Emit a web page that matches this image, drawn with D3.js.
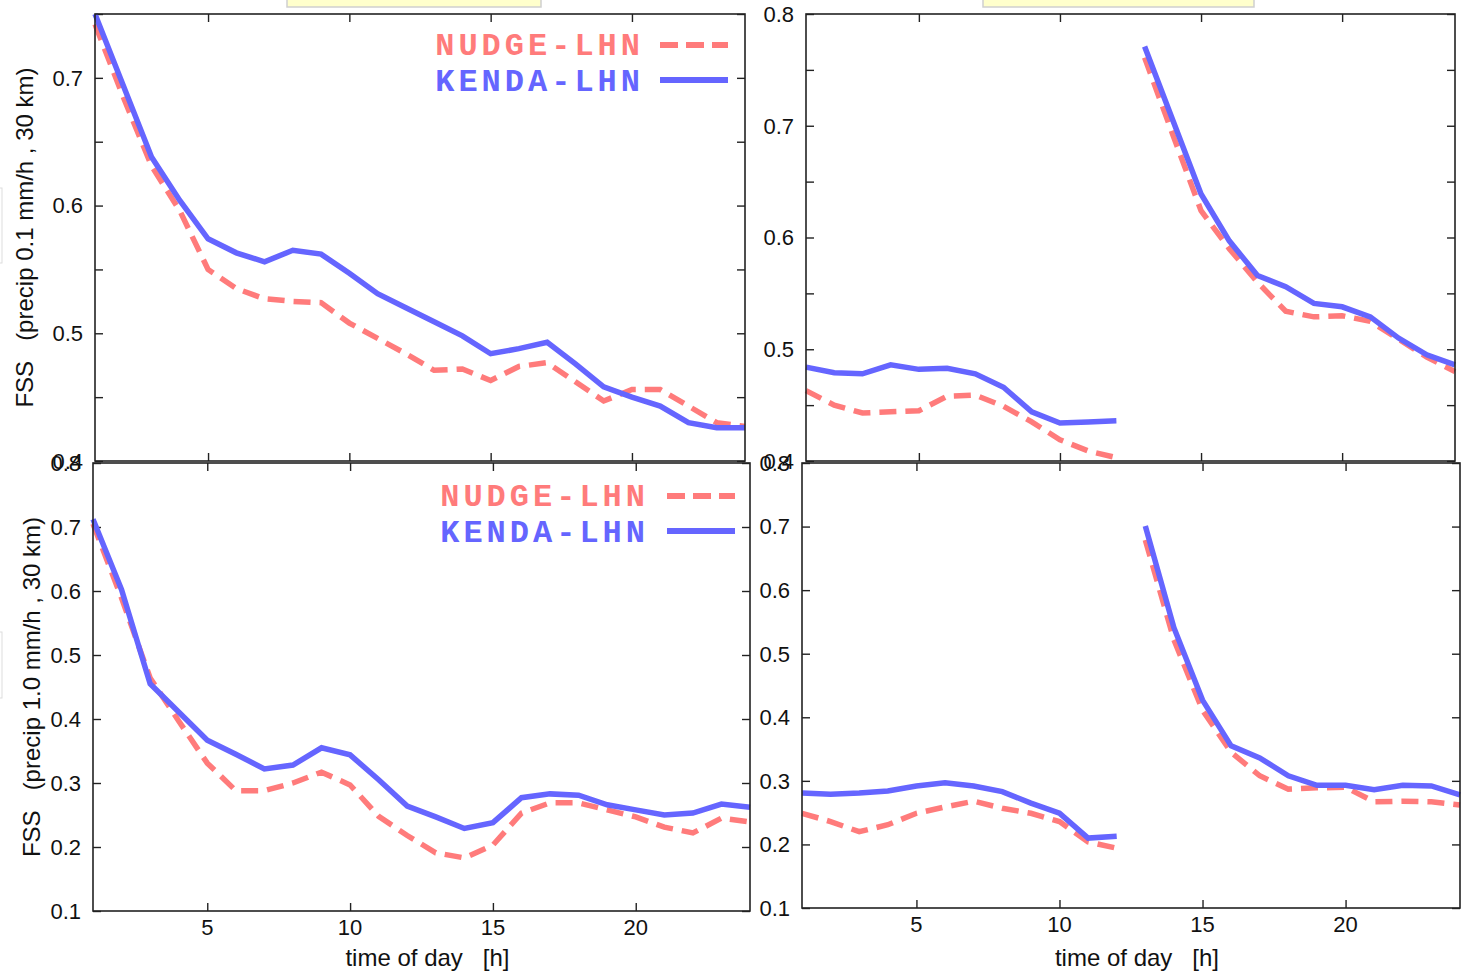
<!DOCTYPE html>
<html>
<head>
<meta charset="utf-8">
<script src="https://cdn.jsdelivr.net/npm/d3@7"></script>
<style>
  body { margin: 0; background: #fff; }
  svg { display: block; }
  text { font-family: "Liberation Sans", Arial, sans-serif; fill: #111; }
  .legend text { font-family: "Liberation Mono", "Courier New", monospace; font-weight: bold; }
</style>
</head>
<body>
<div id="chart"></div>
<script>
// hours of the day (x values)
var hours = [1, 2, 3, 4, 5, 6, 7, 8, 9, 10, 11, 12, 13, 14, 15, 16, 17, 18, 19, 20, 21, 22, 23, 24];
var xTicks = [5, 10, 15, 20];
var seriesNames = ["NUDGE-LHN", "KENDA-LHN"];

// FSS precip 0.1 mm/h, 30 km  (left: continuous run)
var nudge01Left = [0.742, 0.685, 0.631, 0.596, 0.550, 0.535, 0.527, 0.525, 0.524, 0.508, 0.496, 0.484,
                   0.471, 0.472, 0.463, 0.474, 0.477, 0.462, 0.447, 0.456, 0.456, 0.443, 0.430, 0.427];
var kenda01Left = [0.750, 0.694, 0.638, 0.604, 0.574, 0.563, 0.556, 0.565, 0.562, 0.547, 0.531, 0.520,
                   0.509, 0.498, 0.484, 0.488, 0.493, 0.476, 0.458, 0.450, 0.443, 0.430, 0.426, 0.426];
// FSS precip 0.1 mm/h (right: two runs, 1-12 and 13-24)
var nudge01Right = [0.463, 0.450, 0.443, 0.444, 0.445, 0.458, 0.459, 0.449, 0.435, 0.419, 0.409, 0.403,
                    0.761, 0.692, 0.624, 0.590, 0.560, 0.534, 0.529, 0.530, 0.525, 0.509, 0.493, 0.480];
var kenda01Right = [0.484, 0.479, 0.478, 0.486, 0.482, 0.483, 0.478, 0.466, 0.444, 0.434, 0.435, 0.436,
                    0.771, 0.705, 0.639, 0.597, 0.566, 0.556, 0.541, 0.538, 0.529, 0.510, 0.495, 0.486];
// FSS precip 1.0 mm/h, 30 km
var nudge10Left = [0.705, 0.589, 0.464, 0.397, 0.331, 0.288, 0.288, 0.300, 0.317, 0.297, 0.248, 0.218,
                   0.191, 0.183, 0.203, 0.253, 0.269, 0.269, 0.258, 0.247, 0.231, 0.222, 0.245, 0.239];
var kenda10Left = [0.712, 0.602, 0.455, 0.411, 0.367, 0.345, 0.322, 0.328, 0.355, 0.344, 0.305, 0.264,
                   0.247, 0.229, 0.238, 0.277, 0.283, 0.281, 0.266, 0.258, 0.250, 0.253, 0.267, 0.262];
var nudge10Right = [0.249, 0.236, 0.220, 0.231, 0.249, 0.259, 0.268, 0.257, 0.249, 0.236, 0.204, 0.194,
                    0.679, 0.522, 0.411, 0.345, 0.308, 0.287, 0.289, 0.290, 0.267, 0.268, 0.267, 0.262];
var kenda10Right = [0.281, 0.279, 0.281, 0.284, 0.292, 0.297, 0.292, 0.283, 0.265, 0.249, 0.210, 0.213,
                    0.701, 0.541, 0.427, 0.355, 0.336, 0.308, 0.293, 0.293, 0.286, 0.293, 0.292, 0.278];

var yTicks01Left = [0.4, 0.45, 0.5, 0.55, 0.6, 0.65, 0.7, 0.75];
var yLabels01Left = [0.4, 0.5, 0.6, 0.7];
var yTicks01Right = [0.4, 0.45, 0.5, 0.55, 0.6, 0.65, 0.7, 0.75, 0.8];
var yLabels01Right = [0.4, 0.5, 0.6, 0.7, 0.8];
var yTicks10 = [0.1, 0.2, 0.3, 0.4, 0.5, 0.6, 0.7, 0.8];

var colNudge = "#ff7b7b", colKenda = "#6565ff";

var W = 1461, H = 973;
var svg = d3.select("#chart").append("svg").attr("width", W).attr("height", H);

// little cut-off boxes at the page edges
svg.append("rect").attr("x", 287).attr("y", -4).attr("width", 254).attr("height", 11)
  .style("fill", "#ffffcc").style("stroke", "#cfcfcf").style("stroke-width", 1.5);
svg.append("rect").attr("x", 983).attr("y", -4).attr("width", 271).attr("height", 11)
  .style("fill", "#ffffcc").style("stroke", "#cfcfcf").style("stroke-width", 1.5);
svg.append("rect").attr("x", -10).attr("y", 188).attr("width", 12).attr("height", 75)
  .style("fill", "none").style("stroke", "#ddd");
svg.append("rect").attr("x", -10).attr("y", 632).attr("width", 12).attr("height", 66)
  .style("fill", "none").style("stroke", "#ddd");

var panels = [
  { x0: 95, x1: 745, y0: 14, y1: 461, dom: [0.4, 0.75], ticks: yTicks01Left, labels: yLabels01Left,
    nudge: nudge01Left, kenda: kenda01Left, split: false, xlab: false,
    ytitle: "FSS   (precip 0.1 mm/h , 30 km)", ytx: 33, legend: { right: 640, y: 55, lx: 660 } },
  { x0: 806, x1: 1455, y0: 14, y1: 461, dom: [0.4, 0.8], ticks: yTicks01Right, labels: yLabels01Right,
    nudge: nudge01Right, kenda: kenda01Right, split: true, xlab: false },
  { x0: 93, x1: 750, y0: 463, y1: 911, dom: [0.1, 0.8], ticks: yTicks10, labels: yTicks10,
    nudge: nudge10Left, kenda: kenda10Left, split: false, xlab: true,
    ytitle: "FSS   (precip 1.0 mm/h , 30 km)", ytx: 40, legend: { right: 645, y: 506, lx: 667 } },
  { x0: 802, x1: 1460, y0: 463, y1: 908, dom: [0.1, 0.8], ticks: yTicks10, labels: yTicks10,
    nudge: nudge10Right, kenda: kenda10Right, split: true, xlab: true }
];

panels.forEach(function(p) {
  var x = d3.scaleLinear().domain([1, 24]).range([p.x0, p.x1]);
  var y = d3.scaleLinear().domain(p.dom).range([p.y1, p.y0]);
  var g = svg.append("g");

  // frame ticks on all four sides, pointing inward
  var tl = 8;
  g.append("g").attr("transform", "translate(0," + p.y1 + ")")
    .call(d3.axisBottom(x).tickValues(xTicks).tickSizeInner(-tl).tickSizeOuter(0).tickFormat(""));
  g.append("g").attr("transform", "translate(0," + p.y0 + ")")
    .call(d3.axisTop(x).tickValues(xTicks).tickSizeInner(-tl).tickSizeOuter(0).tickFormat(""));
  g.append("g").attr("transform", "translate(" + p.x0 + ",0)")
    .call(d3.axisLeft(y).tickValues(p.ticks).tickSizeInner(-tl).tickSizeOuter(0).tickFormat(""));
  g.append("g").attr("transform", "translate(" + p.x1 + ",0)")
    .call(d3.axisRight(y).tickValues(p.ticks).tickSizeInner(-tl).tickSizeOuter(0).tickFormat(""));
  g.selectAll(".domain").remove();
  g.selectAll(".tick line").style("stroke", "#222").style("stroke-width", 1.4);

  // y tick labels
  g.selectAll(".ylab").data(p.labels).enter().append("text")
    .attr("x", p.x0 - 12).attr("y", function(d) { return y(d); })
    .attr("dy", "0.36em").attr("text-anchor", "end")
    .style("font-size", "22px")
    .text(function(d) { return d3.format(".1f")(d); });

  if (p.xlab) {
    g.selectAll(".xlab").data(xTicks).enter().append("text")
      .attr("x", function(d) { return x(d); }).attr("y", p.y1 + 24)
      .attr("text-anchor", "middle").style("font-size", "22px")
      .text(function(d) { return d; });
    g.append("text").attr("x", (p.x0 + p.x1) / 2 + 6).attr("y", 966)
      .attr("text-anchor", "middle").style("font-size", "24px")
      .style("white-space", "pre").attr("xml:space", "preserve")
      .text("time of day   [h]");
  }

  if (p.ytitle) {
    g.append("text")
      .attr("transform", "translate(" + p.ytx + "," + ((p.y0 + p.y1) / 2) + ") rotate(-90)")
      .attr("text-anchor", "middle").style("font-size", "24px")
      .style("white-space", "pre").attr("xml:space", "preserve")
      .text(p.ytitle);
  }

  // break right-hand panels into two runs (1-12, 13-24)
  var line = d3.line().x(function(d) { return x(d.h); }).y(function(d) { return y(d.v); });
  function runs(vals) {
    var pts = hours.map(function(h, i) { return { h: h, v: vals[i] }; });
    if (!p.split) return [pts];
    return [pts.filter(function(d) { return d.h <= 12; }), pts.filter(function(d) { return d.h > 12; })];
  }

  var clip = "clip" + p.x0;
  svg.append("clipPath").attr("id", clip).append("rect")
    .attr("x", p.x0 - 3).attr("y", p.y0 - 3).attr("width", p.x1 - p.x0 + 6).attr("height", p.y1 - p.y0 + 6);

  var lg = g.append("g").attr("clip-path", "url(#" + clip + ")");
  runs(p.nudge).forEach(function(r) {
    lg.append("path").attr("d", line(r))
      .style("fill", "none").style("stroke", colNudge).style("stroke-width", 5.5)
      .style("stroke-dasharray", "17,9");
  });
  runs(p.kenda).forEach(function(r) {
    lg.append("path").attr("d", line(r))
      .style("fill", "none").style("stroke", colKenda).style("stroke-width", 5.5);
  });

  // frame
  g.append("rect").attr("x", p.x0).attr("y", p.y0)
    .attr("width", p.x1 - p.x0).attr("height", p.y1 - p.y0)
    .style("fill", "none").style("stroke", "#222").style("stroke-width", 1.6);

  if (p.legend) {
    var L = p.legend;
    var leg = g.append("g").attr("class", "legend");
    seriesNames.forEach(function(name, i) {
      var col = i == 0 ? colNudge : colKenda;
      // narrower font with extra spacing to keep the wide courier look
      leg.append("text").attr("x", L.right + 4).attr("y", L.y + i * 36)
        .attr("text-anchor", "end").style("font-size", "32px").style("letter-spacing", "4px")
        .style("fill", col)
        .text(name);
      leg.append("line").attr("x1", L.lx).attr("x2", L.lx + 68)
        .attr("y1", L.y - 10 + i * 35).attr("y2", L.y - 10 + i * 35)
        .style("stroke", col).style("stroke-width", 6)
        .style("stroke-dasharray", i == 0 ? "18,8" : null);
    });
  }
});
</script>
</body>
</html>
